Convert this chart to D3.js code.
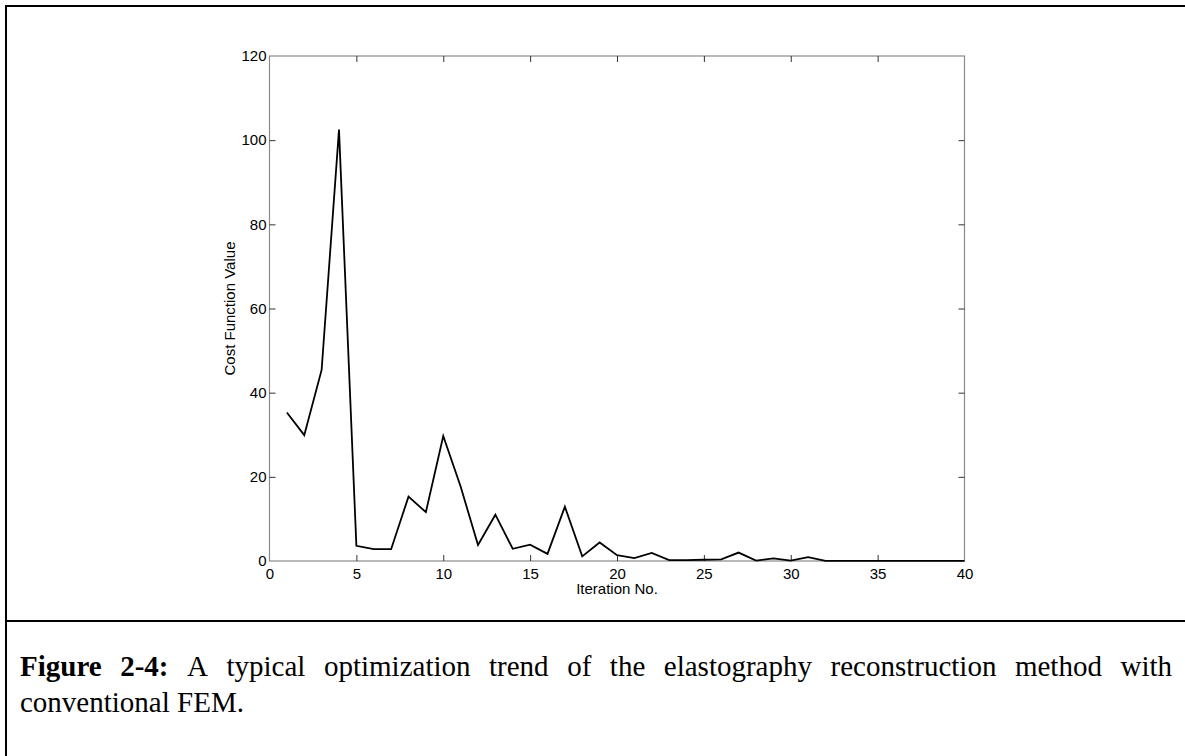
<!DOCTYPE html>
<html>
<head>
<meta charset="utf-8">
<script src="https://cdn.jsdelivr.net/npm/d3@7"></script>
<style>
  html, body { margin: 0; padding: 0; background: #fff; }
  svg { display: block; }
</style>
</head>
<body>
<svg id="chart" width="1185" height="756"></svg>
<script>
// ---- data ----
const iterations = d3.range(1, 41);
const costValues = [35.3, 29.9, 45.4, 102.5, 3.6, 2.8, 2.8, 15.3, 11.6, 29.7,
                    17.7, 3.8, 11.0, 2.9, 3.9, 1.7, 12.9, 1.1, 4.4, 1.4,
                    0.7, 1.9, 0.2, 0.2, 0.3, 0.4, 2.0, 0.1, 0.6, 0.1,
                    0.9, 0.05, 0.02, 0.02, 0.02, 0.02, 0.02, 0.02, 0.02, 0.02];
const xTicks = [0, 5, 10, 15, 20, 25, 30, 35, 40];
const yTicks = [0, 20, 40, 60, 80, 100, 120];
const xLabel = "Iteration No.";
const yLabel = "Cost Function Value";
const captionBold = ["Figure", "2-4:"];
const captionLine1 = "A typical optimization trend of the elastography reconstruction method with";
const captionLine2 = "conventional FEM.";

// ---- layout ----
const svg = d3.select("#chart");
const plot = { left: 269.5, right: 964.5, top: 56, bottom: 561 };

const x = d3.scaleLinear().domain([0, 40]).range([plot.left, plot.right]);
const y = d3.scaleLinear().domain([0, 120]).range([plot.bottom, plot.top]);

// outer frame lines
svg.append("line").attr("x1", 5).attr("x2", 1185).attr("y1", 6).attr("y2", 6)
  .attr("stroke", "#000").attr("stroke-width", 2);
svg.append("line").attr("x1", 6).attr("x2", 6).attr("y1", 5).attr("y2", 756)
  .attr("stroke", "#000").attr("stroke-width", 2);
svg.append("line").attr("x1", 6).attr("x2", 1185).attr("y1", 621).attr("y2", 621)
  .attr("stroke", "#000").attr("stroke-width", 2);

// plot box
svg.append("rect")
  .attr("x", plot.left).attr("y", plot.top)
  .attr("width", plot.right - plot.left).attr("height", plot.bottom - plot.top)
  .attr("fill", "none").attr("stroke", "#8a8a8a").attr("stroke-width", 1.2);

const tickLen = 6;
const fontAxis = "Arial, 'Liberation Sans', sans-serif";

function styleAxis(g, showLabels) {
  g.select(".domain").remove();
  g.selectAll(".tick line").attr("stroke", "#333").attr("stroke-width", 1);
  g.selectAll(".tick text").attr("fill", "#000")
    .style("font-family", fontAxis).style("font-size", "15px");
  if (!showLabels) g.selectAll(".tick text").remove();
}

// bottom axis (ticks inward)
svg.append("g").attr("transform", `translate(0,${plot.bottom})`)
  .call(d3.axisBottom(x).tickValues(xTicks).tickSizeInner(-tickLen).tickSizeOuter(0).tickPadding(7))
  .call(g => styleAxis(g, true))
  .call(g => g.selectAll(".tick").filter(d => d === 0 || d === 40).select("line").remove());
// top axis mirror
svg.append("g").attr("transform", `translate(0,${plot.top})`)
  .call(d3.axisTop(x).tickValues(xTicks).tickSizeInner(-tickLen).tickSizeOuter(0))
  .call(g => styleAxis(g, false))
  .call(g => g.selectAll(".tick").filter(d => d === 0 || d === 40).select("line").remove());
// left axis
svg.append("g").attr("transform", `translate(${plot.left},0)`)
  .call(d3.axisLeft(y).tickValues(yTicks).tickSizeInner(-tickLen).tickSizeOuter(0).tickPadding(3))
  .call(g => styleAxis(g, true))
  .call(g => g.selectAll(".tick").filter(d => d === 0 || d === 120).select("line").remove());
// right axis mirror
svg.append("g").attr("transform", `translate(${plot.right},0)`)
  .call(d3.axisRight(y).tickValues(yTicks).tickSizeInner(-tickLen).tickSizeOuter(0))
  .call(g => styleAxis(g, false))
  .call(g => g.selectAll(".tick").filter(d => d === 0 || d === 120).select("line").remove());

// data line
const line = d3.line().x((d, i) => x(iterations[i])).y(d => y(d));
svg.append("path").datum(costValues)
  .attr("d", line).attr("fill", "none")
  .attr("stroke", "#000").attr("stroke-width", 1.8).attr("stroke-linejoin", "miter");

// axis labels
svg.append("text").attr("x", (plot.left + plot.right) / 2).attr("y", 594)
  .attr("text-anchor", "middle")
  .style("font-family", fontAxis).style("font-size", "15px")
  .text(xLabel);
svg.append("text")
  .attr("transform", `translate(235,${(plot.top + plot.bottom) / 2}) rotate(-90)`)
  .attr("text-anchor", "middle")
  .style("font-family", fontAxis).style("font-size", "15px")
  .text(yLabel);

// caption (justified first line)
const serif = "'Times New Roman', 'Liberation Serif', Times, serif";
const capSize = 29;
const words = captionBold.map(t => ({ t, bold: true })).concat(
  captionLine1.split(" ").map(t => ({ t, bold: false })));
const capG = svg.append("g");
const left = 20, right = 1172, base1 = 676, base2 = 712;
const nodes = words.map(w => capG.append("text")
  .attr("y", base1)
  .style("font-family", serif).style("font-size", capSize + "px")
  .style("font-weight", w.bold ? "bold" : "normal")
  .text(w.t));
const widths = nodes.map(n => n.node().getComputedTextLength());
const totalW = d3.sum(widths);
const gap = (right - left - totalW) / (nodes.length - 1);
let cx = left;
nodes.forEach((n, i) => { n.attr("x", cx); cx += widths[i] + gap; });

capG.append("text").attr("x", left).attr("y", base2)
  .style("font-family", serif).style("font-size", capSize + "px")
  .text(captionLine2);
</script>
</body>
</html>
